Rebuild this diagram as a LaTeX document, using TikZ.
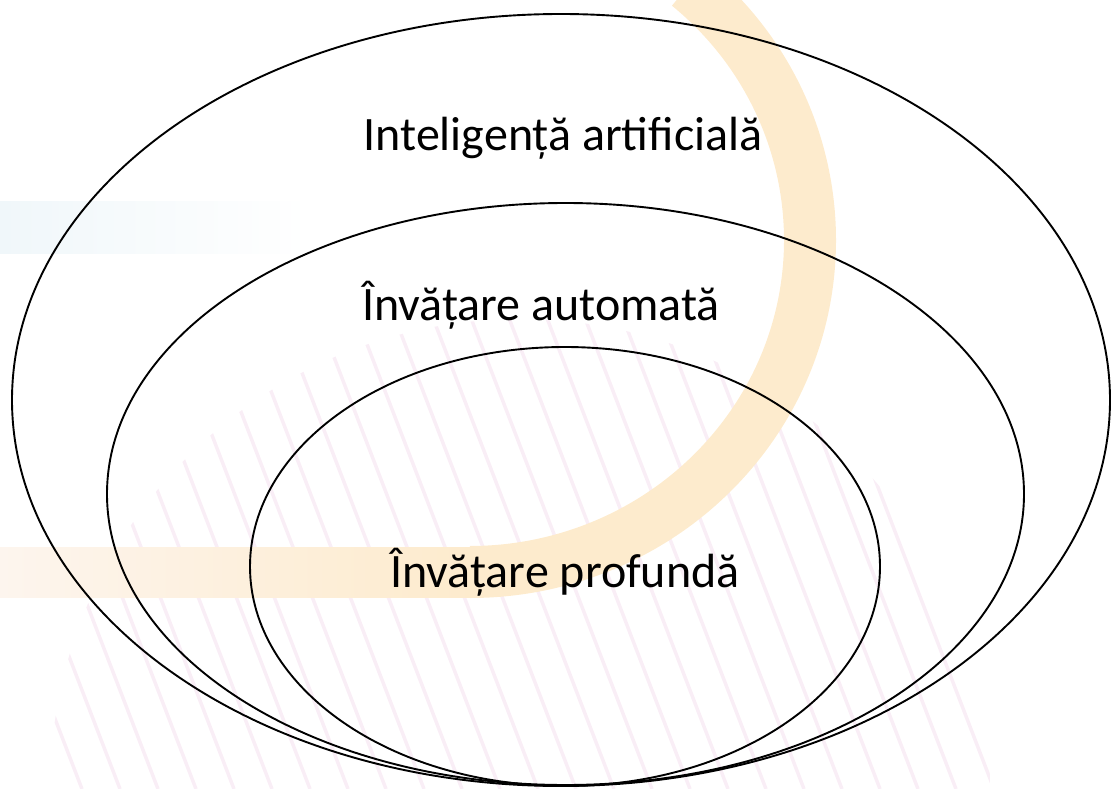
\documentclass[tikz,border=0pt]{standalone}
\usepackage{fontspec}
\setmainfont{Carlito}
\usetikzlibrary{shapes.geometric}
\definecolor{bluebar}{RGB}{240,247,250}
\definecolor{orangeband}{RGB}{253,235,205}
\definecolor{orangelight}{RGB}{253,245,238}
\definecolor{hatchpink}{RGB}{249,238,246}
\tikzset{
  ring/.style={ellipse, draw=black, line width=1.9pt, inner sep=0pt},
  label/.style={anchor=base, font=\fontsize{48}{52}\selectfont, inner sep=0pt},
  hatch/.style={draw=hatchpink, line width=3.5pt},
}
\begin{document}
\begin{tikzpicture}[x=1pt,y=-1pt]
\useasboundingbox (0,0) rectangle (1112,789);
\begin{scope}
\clip (0,0) rectangle (1112,789);
% background decoration
\shade[left color=bluebar, right color=white] (0,202) rectangle (310,253);
\begin{scope}
\clip (520,789) circle[radius=470];
\foreach \i in {0,...,36} \draw[hatch] ({\i*38-220},300) -- ++(188,489);
\end{scope}
\shade[left color=orangelight, right color=orangeband] (0,547) rectangle (472,597);
\draw[orangeband, line width=52pt] (470,240) ++(-50:340 and 332) arc[start angle=-50, end angle=90, x radius=340, y radius=332];
\end{scope}
% ellipses
\node[ring, minimum width=1098pt, minimum height=772pt] (ai) at (561,400) {};
\node[ring, minimum width=917pt, minimum height=582pt] (ml) at (565.5,494) {};
\node[ring, minimum width=630pt, minimum height=439pt] (dl) at (565,566.5) {};
% labels
\node[label] (tai) at (563,151) {Inteligență artificială};
\node[label] (tml) at (541,320) {Învățare automată};
\node[label] (tdl) at (565,587) {Învățare profundă};
\end{tikzpicture}
\end{document}
